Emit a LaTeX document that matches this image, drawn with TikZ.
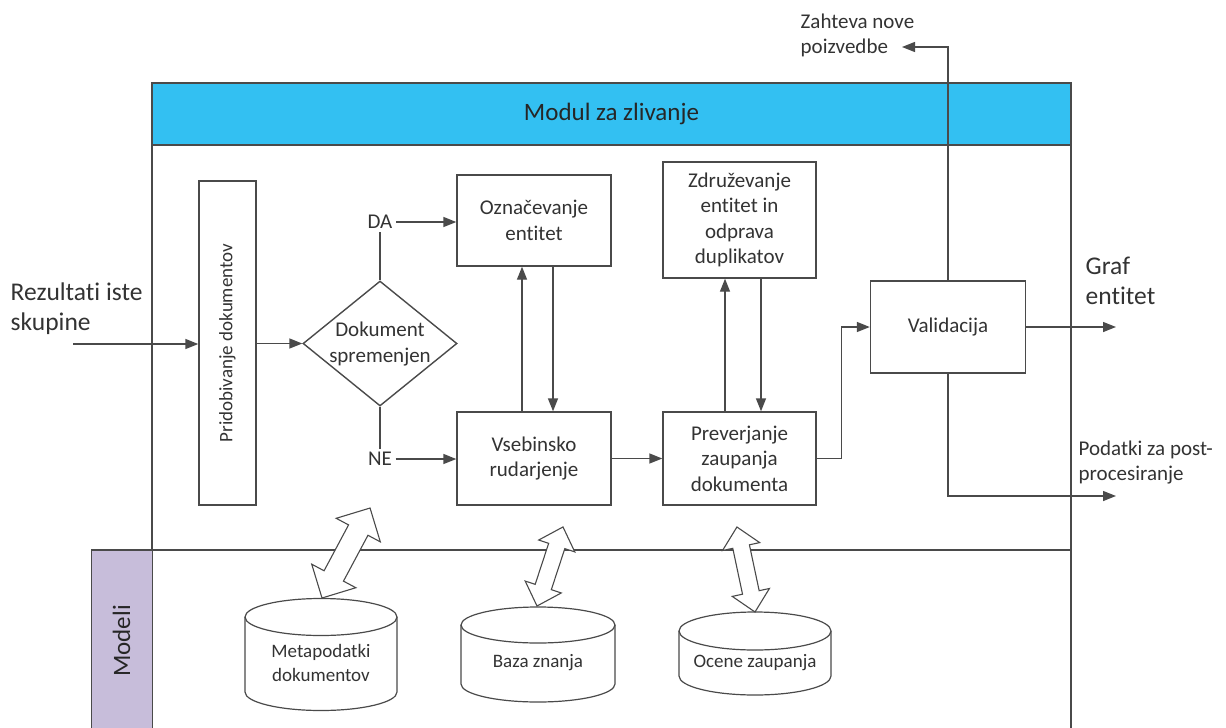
\documentclass[tikz,border=0pt]{standalone}
\usepackage{fontspec}
\setmainfont[Ligatures={NoCommon}]{Carlito}
\usetikzlibrary{arrows.meta,shapes.geometric}
\definecolor{ln}{HTML}{4A4A4A}
\definecolor{hdr}{HTML}{33C0F2}
\definecolor{lav}{HTML}{C7BDDA}
\definecolor{txt}{HTML}{333333}
\newcommand{\dblarrow}[6]{%
  \begin{scope}[shift={(#1)},rotate=#2]
    \filldraw[fill=white,draw=ln,line width=1.1pt,line join=miter]
      (0,0) -- (#5,#4) -- (#5,#6) -- ({#3-#5},#6) -- ({#3-#5},#4) -- (#3,0)
      -- ({#3-#5},-#4) -- ({#3-#5},-#6) -- (#5,-#6) -- (#5,-#4) -- cycle;
  \end{scope}}
\begin{document}
\begin{tikzpicture}[x=1pt,y=-1pt,line width=1.4pt,color=ln,text=txt,
  box/.style={draw=ln,fill=white,inner sep=0pt,align=center,
    font=\fontsize{21}{25.5}\selectfont},
  lbl/.style={inner sep=0pt,align=left,font=\fontsize{21}{25.5}\selectfont},
  biglbl/.style={inner sep=0pt,align=left,font=\fontsize{25.5}{30}\selectfont},
  cyltxt/.style={inner sep=0pt,align=center,font=\fontsize{19}{23.5}\selectfont},
  arr/.style={draw=ln,-{Triangle[length=13pt,width=10pt]}},
  cyl/.style={draw=ln,fill=white,line width=1.2pt}]
\useasboundingbox (0,0) rectangle (1226,728);

% swimlane frame
\node[draw=ln,fill=hdr,minimum width=919pt,minimum height=62pt,inner sep=0pt,
  font=\fontsize{25}{30}\selectfont,text=black!85] (hdr) at (611.5,114) {Modul za zlivanje};
\draw (152,145) -- (152,730);
\draw (1071,145) -- (1071,730);
\draw (91,550) -- (1071,550);
\node[draw=ln,fill=lav,minimum width=61pt,minimum height=190pt,inner sep=0pt,anchor=north west] (mod) at (91,550) {};
\node[inner sep=0pt,font=\fontsize{25}{30}\selectfont,text=black!85] (modt) at (121.5,641) {\rotatebox{90}{Modeli}};

% boxes
\node[box,minimum width=57pt,minimum height=324pt] (pd) at (227.5,343)
  {\fontsize{19}{23}\selectfont\rotatebox{90}{Pridobivanje dokumentov}};
\node[diamond,draw=ln,fill=white,minimum width=154pt,minimum height=125pt,inner sep=0pt,aspect=1.23] (dm) at (380,343.5) {};
\node[box,draw=none,fill=none] (dmt) at (380,344) {Dokument\\spremenjen};
\node[box,minimum width=154pt,minimum height=91pt] (oz) at (534,220.5) {Označevanje\\entitet};
\node[box,minimum width=154pt,minimum height=93pt] (vs) at (534,458.5) {Vsebinsko\\rudarjenje};
\node[box,minimum width=153pt,minimum height=116pt] (zd) at (739.5,220) {Združevanje\\entitet in\\odprava\\duplikatov};
\node[box,minimum width=153pt,minimum height=93pt] (pv) at (739.5,458.5) {Preverjanje\\zaupanja\\dokumenta};
\node[box,minimum width=155pt,minimum height=92pt] (va) at (948,327) {Validacija};

\node[lbl,inner sep=3pt] (da) at (380,222) {DA};
\node[lbl,inner sep=3pt] (ne) at (380,459) {NE};

% outside labels
\node[biglbl,anchor=north west] (rez) at (10,282) {Rezultati iste\\skupine};
\node[biglbl,anchor=north west] (graf) at (1085,256) {Graf\\entitet};
\node[lbl,anchor=north west] (zah) at (800,13) {Zahteva nove\\poizvedbe};
\node[lbl,anchor=north west] (pod) at (1078,440) {Podatki za post-\\procesiranje};

% connectors
\coordinate (inL) at (73,344);
\draw[arr] (inL) -- (inL -| pd.west);
\draw[arr] (dm.west -| pd.east) -- (dm.west);
\draw (dm.north) -- (da.south);
\draw[arr] (da.east) -- (da.east -| oz.west);
\draw (dm.south) -- (ne.north);
\draw[arr] (ne.east) -- (ne.east -| vs.west);
\draw[arr] ([xshift=-12pt]vs.north) -- ([xshift=-12pt]oz.south);
\draw[arr] ([xshift=19pt]oz.south) -- ([xshift=19pt]vs.north);
\draw[arr] ([xshift=-14.5pt]pv.north) -- ([xshift=-14.5pt]zd.south);
\draw[arr] ([xshift=21.5pt]zd.south) -- ([xshift=21.5pt]pv.north);
\draw[arr] (vs.east) -- (pv.west);
\draw[arr] (pv.east) -- ++(25,0) |- (va.west);
\coordinate (gout) at (1116,327);
\draw[arr] (va.east) -- (gout);
\coordinate (zq) at (902,47);
\draw[arr] (va.north) |- (zq);
\coordinate (pp) at (1116,496);
\draw[arr] (va.south) |- (pp);

% cylinders
\draw[cyl] (245,617) -- (245,692) arc(180:0:76 and 18.5) -- (397,617) arc(0:-180:76 and 18.5) -- cycle;
\draw[cyl] (245,617) arc(180:0:76 and 18.5);
\node[cyltxt] (meta) at (321,663) {Metapodatki\\dokumentov};

\draw[cyl] (461,625) -- (461,684) arc(180:0:77 and 18) -- (615,625) arc(0:-180:77 and 18) -- cycle;
\draw[cyl] (461,625) arc(180:0:77 and 18);
\node[cyltxt] (baza) at (538,663) {Baza znanja};

\draw[cyl] (679,631) -- (679,676) arc(180:0:76 and 19) -- (831,631) arc(0:-180:76 and 19) -- cycle;
\draw[cyl] (679,631) arc(180:0:76 and 19);
\node[cyltxt] (ocene) at (755,663) {Ocene zaupanja};

% double arrows
\coordinate (a1) at (322,598);
\coordinate (a2) at (537,606);
\coordinate (a3) at (755,612);
\dblarrow{a1}{61.9}{102}{25}{25}{11}
\dblarrow{a2}{71.8}{83.2}{19}{20}{8.5}
\dblarrow{a3}{102}{86.9}{19}{20}{8.5}
\end{tikzpicture}
\end{document}
